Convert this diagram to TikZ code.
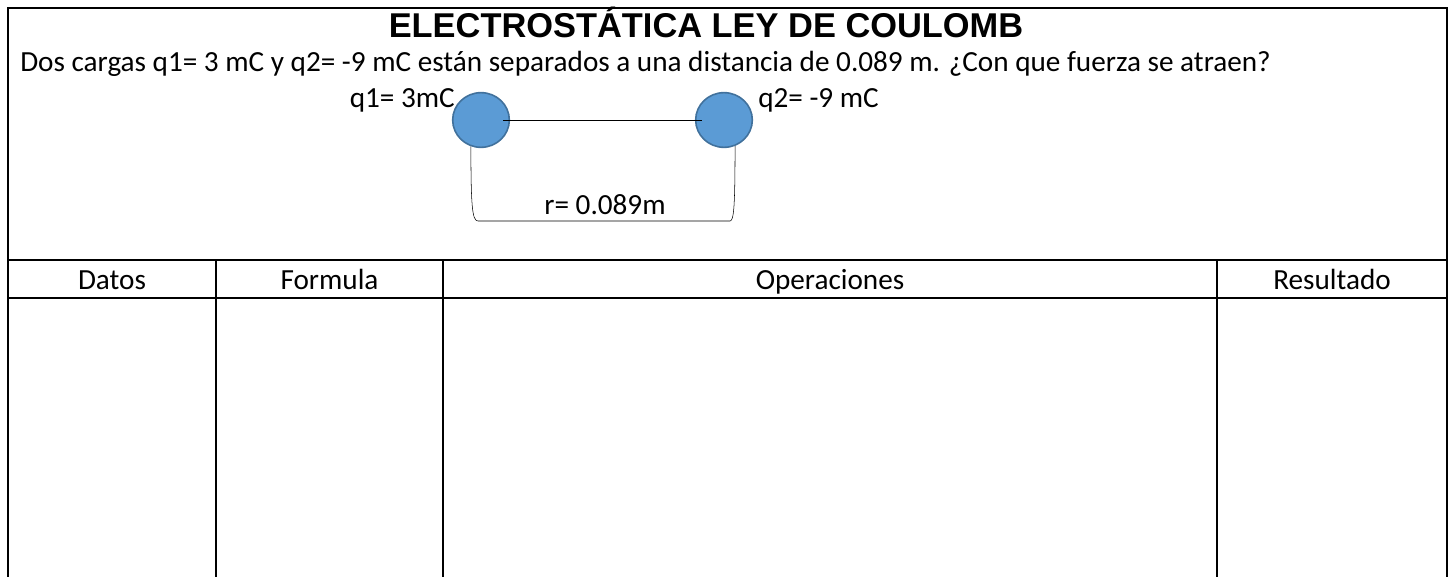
\documentclass[tikz,border=0pt]{standalone}
\usepackage{fontspec}
\setmainfont{Carlito}
\newfontfamily\arialfont{Liberation Sans}
\usetikzlibrary{shapes.geometric}
\definecolor{azulcarga}{HTML}{5B9BD5}
\definecolor{bordecarga}{HTML}{41719C}
\tikzset{
  carga/.style={ellipse,fill=azulcarga,draw=bordecarga,line width=1.2pt,minimum width=42.5pt,minimum height=41pt,inner sep=0pt},
  texto/.style={font=\fontsize{21.9}{26}\selectfont,inner sep=0pt},
  marco/.style={line width=1.6pt}
}
\begin{document}
\begin{tikzpicture}[x=0.75pt,y=-0.75pt]
    \useasboundingbox (0,0) rectangle (1450,577);

    %Marco y tabla
    \draw[marco] (8,577) -- (8,8) -- (1447,8) -- (1447,577);
    \draw[marco] (8,260) -- (1447,260);
    \draw[marco] (8,298) -- (1447,298);
    \foreach \x in {216,443,1217}
        \draw[marco] (\x,260) -- (\x,577);

    %Titulo y enunciado
    \node[inner sep=0pt,anchor=base,font=\arialfont\bfseries\fontsize{25.8}{30}\selectfont] (titulo) at (706,38) {ELECTROSTÁTICA LEY DE COULOMB};
    \node[texto,anchor=base west] (enunciado) at (20,72) {Dos cargas q1= 3 mC y q2= -9 mC están separados a una distancia de 0.089 m. ¿Con que fuerza se atraen?};

    %Cargas
    \node[carga] (q1) at (481,120) {};
    \node[carga] (q2) at (724,120) {};
    \node[texto,anchor=base east] (q1lab) at (455,108) {q1= 3mC};
    \node[texto,anchor=base west] (q2lab) at (758,108) {q2= -9 mC};

    %Linea que une las cargas
    \draw ([xshift=-5pt]q1.east) -- ([xshift=5pt]q2.west);

    %Distancia
    \coordinate (r1) at (478,221);
    \coordinate (r2) at (730,221);
    \draw (q1.249) .. controls (471,205) and (472,221) .. (r1) -- (r2) .. controls (734,221) and (735,205) .. (q2.293);
    \node[texto,anchor=base] (rlab) at (605,215) {r= 0.089m};

    %Encabezados de la tabla
    \node[texto,anchor=base] (datos) at (112,290) {Datos};
    \node[texto,anchor=base] (formula) at (329.5,290) {Formula};
    \node[texto,anchor=base] (operaciones) at (830,290) {Operaciones};
    \node[texto,anchor=base] (resultado) at (1332,290) {Resultado};

\end{tikzpicture}
\end{document}
